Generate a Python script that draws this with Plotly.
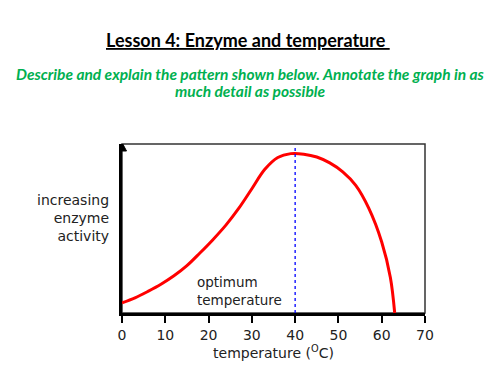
import plotly.graph_objects as go

temperature = [0, 3, 6, 9, 12, 15, 18, 21, 24, 27, 30, 33, 36, 39, 42, 45, 48, 51, 54, 57, 60, 62, 63]
activity = [6, 9, 12.8, 17, 22, 28, 35.5, 43.4, 52, 62, 73.5, 85, 92, 94.3, 94, 92.3, 88.8, 83.5, 75.5, 62, 42, 21, 0]
x_ticks = [0, 10, 20, 30, 40, 50, 60, 70]
optimum = 40

# page offset (browser body margin) compensation
OFF = 8
W, H = 500, 375
L, R, T, B = 122 - OFF, W - 425 + OFF, 144 - OFF, H - 313 + OFF
PW, PH = W - L - R, H - T - B


def px(x):
    return (x - OFF - L) / PW


def py(y):
    return (H - B - (y - OFF)) / PH


fig = go.Figure()
fig.add_trace(go.Scatter(x=temperature, y=activity, mode="lines",
                         line=dict(color="#ff0000", width=3, shape="spline", smoothing=1.0),
                         hoverinfo="skip", showlegend=False))
fig.add_trace(go.Scatter(x=[optimum, optimum], y=[0, 97.8], mode="lines",
                         line=dict(color="#0000ff", width=1.3, dash="dot"),
                         hoverinfo="skip", showlegend=False))

fnt = "DejaVu Sans"
fig.update_layout(
    width=W, height=H,
    margin=dict(l=L, r=R, t=T, b=B),
    paper_bgcolor="white", plot_bgcolor="white",
    xaxis=dict(range=[0, 70], tickvals=x_ticks, showgrid=False, zeroline=False,
               showline=True, linecolor="black", linewidth=3,
               ticks="outside", ticklen=7, tickwidth=2, tickcolor="black",
               tickfont=dict(family=fnt, size=14, color="#222"),
               title=dict(text="temperature (<sup>O</sup>C)", font=dict(family=fnt, size=14, color="#222"), standoff=0)),
    yaxis=dict(range=[0, 100], showgrid=False, zeroline=False, showticklabels=False,
               showline=True, linecolor="black", linewidth=3, ticks=""),
    shapes=[
        dict(type="rect", xref="paper", yref="paper", x0=0, x1=1, y0=0, y1=1,
             line=dict(color="#333", width=1.5), layer="below"),
        dict(type="path", xref="x", yref="y", xsizemode="pixel", ysizemode="pixel",
             xanchor=0, yanchor=100, path="M -4.5,-7 L 0,1.5 L 4.5,-7 Z",
             fillcolor="black", line=dict(color="black", width=1)),
    ],
    annotations=[
        dict(text="<b><u>Lesson 4: Enzyme and temperature </u></b>", xref="paper", yref="paper",
             x=px(248), y=py(40), yanchor="middle", showarrow=False,
             font=dict(family="Lato", size=18, color="black")),
        dict(text="<b><i>Describe and explain the pattern shown below. Annotate the graph in as</i></b>",
             xref="paper", yref="paper", x=px(250), y=py(74), yanchor="middle", showarrow=False,
             font=dict(family="Lato", size=15.5, color="#00b050")),
        dict(text="<b><i>much detail as possible</i></b>",
             xref="paper", yref="paper", x=px(250), y=py(91), yanchor="middle", showarrow=False,
             font=dict(family="Lato", size=15.5, color="#00b050")),
        dict(text="increasing<br>enzyme<br>activity", xref="paper", yref="paper", x=px(111), y=py(218),
             xanchor="right", yanchor="middle", align="right", showarrow=False,
             font=dict(family=fnt, size=14, color="#222")),
        dict(text="optimum<br>temperature", xref="paper", yref="paper", x=px(195), y=py(291),
             xanchor="left", yanchor="middle", align="left", showarrow=False,
             font=dict(family=fnt, size=13.5, color="#222")),
    ],
)
fig.write_html("out.html")
